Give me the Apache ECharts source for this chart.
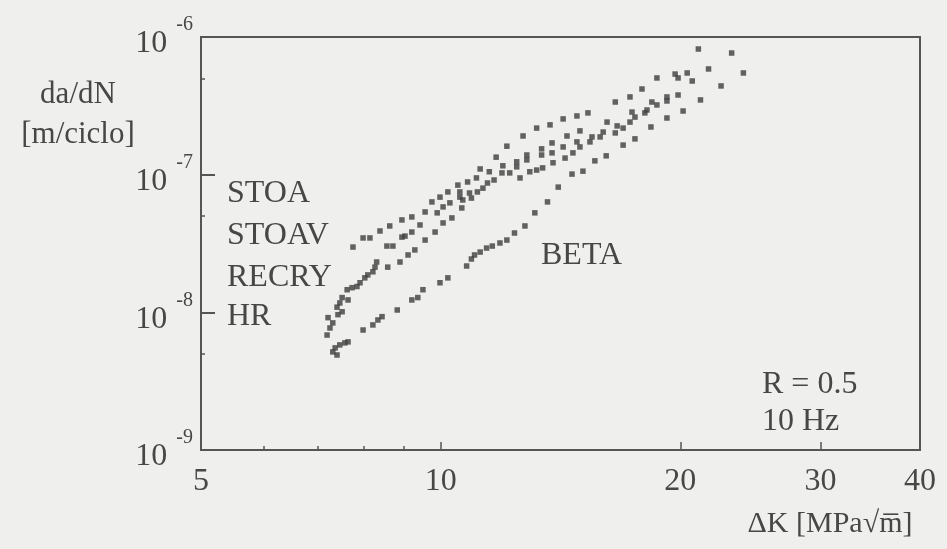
<!DOCTYPE html>
<html>
<head>
<meta charset="utf-8">
<script src="https://cdn.jsdelivr.net/npm/echarts@6/dist/echarts.min.js"></script>
<style>
html,body{margin:0;padding:0;background:#efefed;}
#chart{width:947px;height:549px;}
</style>
</head>
<body>
<div id="chart"></div>
<script>
// ---- data (ΔK [MPa√m], da/dN [m/ciclo]) ----
const stoa = [[7.76,2.98e-8],[7.99,3.47e-8],[8.15,3.47e-8],[8.39,3.90e-8],[8.63,4.24e-8],[8.94,4.69e-8],[9.20,4.93e-8],[9.56,5.36e-8],[9.75,6.34e-8],[9.98,6.87e-8],[10.21,7.49e-8],[10.51,8.40e-8],[10.81,8.85e-8],[11.09,9.47e-8],[11.21,1.10e-7],[11.74,1.34e-7],[12.11,1.61e-7],[12.69,1.91e-7],[13.20,2.18e-7],[13.72,2.30e-7],[14.25,2.54e-7],[14.83,2.67e-7],[15.31,2.81e-7],[16.57,3.37e-7],[17.29,3.67e-7],[17.90,4.19e-7],[18.69,5.04e-7],[19.70,5.38e-7],[21.07,8.18e-7],[23.2,7.65e-7]];
const stoav = [[8.56,3.03e-8],[8.71,3.03e-8],[9.02,3.58e-8],[9.20,3.83e-8],[9.42,4.31e-8],[9.90,5.28e-8],[10.07,5.83e-8],[10.27,6.24e-8],[10.57,7.49e-8],[10.87,7.36e-8],[11.12,7.49e-8],[11.30,7.98e-8],[11.45,8.70e-8],[11.51,1.05e-7],[11.67,9.15e-8],[11.97,1.16e-7],[12.46,1.24e-7],[12.83,1.39e-7],[13.39,1.54e-7],[13.80,1.70e-7],[14.41,1.91e-7],[14.96,2.08e-7],[16.18,2.41e-7],[16.66,2.26e-7],[17.29,2.41e-7],[17.39,2.85e-7],[18.16,2.95e-7],[18.42,3.37e-7],[19.24,3.67e-7],[19.87,5.04e-7],[20.40,5.48e-7],[20.70,4.79e-7],[21.70,5.86e-7]];
const recry = [[7.20,6.84e-9],[7.26,7.70e-9],[7.32,8.38e-9],[7.22,9.15e-9],[7.43,9.62e-9],[7.52,1.01e-8],[7.41,1.09e-8],[7.47,1.17e-8],[7.52,1.28e-8],[7.65,1.23e-8],[7.63,1.46e-8],[7.74,1.51e-8],[7.85,1.54e-8],[7.92,1.64e-8],[8.03,1.78e-8],[8.10,1.87e-8],[8.22,1.97e-8],[8.27,2.13e-8],[8.31,2.32e-8],[8.94,3.52e-8],[10.57,6.87e-8],[10.66,6.55e-8],[11.94,1.03e-7],[12.21,1.03e-7],[12.46,1.14e-7],[12.83,1.28e-7],[13.39,1.39e-7],[13.80,1.44e-7],[14.25,1.59e-7],[14.83,1.73e-7],[14.96,1.59e-7],[15.40,1.73e-7],[15.49,1.88e-7],[15.86,1.88e-7],[16.00,2.04e-7],[16.57,2.01e-7],[16.95,2.18e-7],[17.54,2.62e-7],[18.05,2.81e-7],[18.69,3.21e-7],[19.24,3.43e-7],[19.87,3.79e-7]];
const hr = [[8.58,2.13e-8],[8.89,2.32e-8],[9.10,2.61e-8],[9.28,2.84e-8],[9.56,3.35e-8],[9.84,3.83e-8],[10.07,4.46e-8],[10.33,4.85e-8],[10.63,5.73e-8],[10.93,6.76e-8],[12.58,9.47e-8],[12.94,1.05e-7],[13.20,1.08e-7],[13.43,1.12e-7],[13.84,1.22e-7],[14.33,1.32e-7],[14.66,1.44e-7]];
const beta = [[7.41,4.9e-9],[7.32,5.16e-9],[7.37,5.52e-9],[7.47,5.8e-9],[7.58,6.0e-9],[7.65,6.1e-9],[7.99,7.44e-9],[8.22,8.1e-9],[8.34,8.8e-9],[8.44,9.3e-9],[8.82,1.04e-8],[9.20,1.23e-8],[9.36,1.28e-8],[9.50,1.46e-8],[9.98,1.64e-8],[10.21,1.78e-8],[10.78,2.17e-8],[10.93,2.44e-8],[11.03,2.61e-8],[11.21,2.74e-8],[11.42,2.93e-8],[11.61,3.03e-8],[11.87,3.19e-8],[12.11,3.35e-8],[12.38,3.77e-8],[12.76,4.24e-8],[13.13,5.28e-8],[13.62,6.34e-8],[14.05,8.12e-8],[14.62,1.01e-7],[15.09,1.06e-7],[15.62,1.26e-7],[16.14,1.37e-7],[16.95,1.64e-7],[17.54,1.82e-7],[18.37,2.22e-7],[19.24,2.58e-7],[20.16,2.90e-7],[21.2,3.49e-7],[22.5,4.41e-7],[24.0,5.48e-7]];

// ---- ticks ----
const xLabelTicks = [5, 10, 20, 30, 40];
const xMajorTicks = [10, 20, 30];
const xMinorTicks = [6, 7, 8, 9];
const yMajorTicks = [1e-9, 1e-8, 1e-7, 1e-6];
const yMinorTicks = [5e-9, 5e-8, 5e-7];

const seriesNames = ['STOA', 'STOAV', 'RECRY', 'HR', 'BETA'];
const seriesData = [stoa, stoav, recry, hr, beta];

const INK = '#474747';
const FONT = '"Liberation Serif", "Times New Roman", serif';

const chart = echarts.init(document.getElementById('chart'), null, {renderer: 'canvas'});

const xBase = {type: 'log', logBase: 10, min: 5, max: 40, position: 'bottom', gridIndex: 0, splitLine: {show: false}};
const yBase = {type: 'log', logBase: 10, min: 1e-9, max: 1e-6, position: 'left', gridIndex: 0, splitLine: {show: false}};

const option = {
  backgroundColor: '#efefed',
  animation: false,
  grid: {left: 201, top: 37, right: 27, bottom: 99, show: true, borderColor: '#555', borderWidth: 2, backgroundColor: 'transparent'},
  xAxis: [
    Object.assign({}, xBase, {
      axisLine: {show: true, lineStyle: {color: '#555', width: 2}},
      axisTick: {show: true, inside: true, length: 8, customValues: xMajorTicks, lineStyle: {color: '#555', width: 1.5}},
      axisLabel: {show: true, customValues: xLabelTicks, margin: 16, color: INK, fontFamily: FONT, fontSize: 32,
        formatter: v => String(Math.round(v))}
    }),
    Object.assign({}, xBase, {
      axisLine: {show: false},
      axisTick: {show: true, inside: true, length: 4, customValues: xMinorTicks, lineStyle: {color: '#555', width: 1.5}},
      axisLabel: {show: false}
    })
  ],
  yAxis: [
    Object.assign({}, yBase, {
      interval: 1,
      axisLine: {show: true, lineStyle: {color: '#555', width: 2}},
      axisTick: {show: true, inside: true, length: 14, lineStyle: {color: '#555', width: 2}},
      axisLabel: {show: true, customValues: yMajorTicks, margin: 8, color: INK, fontFamily: FONT,
        formatter: v => '{b|10}{s|' + Math.round(Math.log10(v)) + '}',
        rich: {
          b: {fontSize: 32, fontFamily: FONT, color: INK, padding: [14, 0, 0, 0]},
          s: {fontSize: 20, fontFamily: FONT, color: INK, padding: [0, 0, 24, 9]}
        }}
    }),
    Object.assign({}, yBase, {
      axisLine: {show: false},
      axisTick: {show: true, inside: true, length: 4, customValues: yMinorTicks, lineStyle: {color: '#555', width: 1.5}},
      axisLabel: {show: false}
    })
  ],
  series: seriesNames.map((name, i) => ({
    name: name,
    type: 'scatter',
    xAxisIndex: 0,
    yAxisIndex: 0,
    data: seriesData[i],
    symbol: 'rect',
    symbolSize: 5.5,
    itemStyle: {color: '#3d3d3d'}
  })),
  graphic: [
    {type: 'text', x: 78, y: 95, style: {text: 'da/dN', font: '31px ' + FONT, fill: INK, align: 'center', verticalAlign: 'middle'}},
    {type: 'text', x: 78, y: 135, style: {text: '[m/ciclo]', font: '31px ' + FONT, fill: INK, align: 'center', verticalAlign: 'middle'}},
    {type: 'text', x: 227, y: 194, style: {text: 'STOA', font: '32px ' + FONT, fill: INK, align: 'left', verticalAlign: 'middle'}},
    {type: 'text', x: 227, y: 236, style: {text: 'STOAV', font: '32px ' + FONT, fill: INK, align: 'left', verticalAlign: 'middle'}},
    {type: 'text', x: 227, y: 278, style: {text: 'RECRY', font: '32px ' + FONT, fill: INK, align: 'left', verticalAlign: 'middle'}},
    {type: 'text', x: 227, y: 317, style: {text: 'HR', font: '32px ' + FONT, fill: INK, align: 'left', verticalAlign: 'middle'}},
    {type: 'text', x: 541, y: 256, style: {text: 'BETA', font: '32px ' + FONT, fill: INK, align: 'left', verticalAlign: 'middle'}},
    {type: 'text', x: 762, y: 385, style: {text: 'R = 0.5', font: '32px ' + FONT, fill: INK, align: 'left', verticalAlign: 'middle'}},
    {type: 'text', x: 762, y: 422, style: {text: '10 Hz', font: '32px ' + FONT, fill: INK, align: 'left', verticalAlign: 'middle'}},
    {type: 'text', x: 830, y: 524, style: {text: 'ΔK [MPa√m\u0305]', font: '30px ' + FONT, fill: INK, align: 'center', verticalAlign: 'middle'}}
  ]
};
chart.setOption(option);
</script>
</body>
</html>
